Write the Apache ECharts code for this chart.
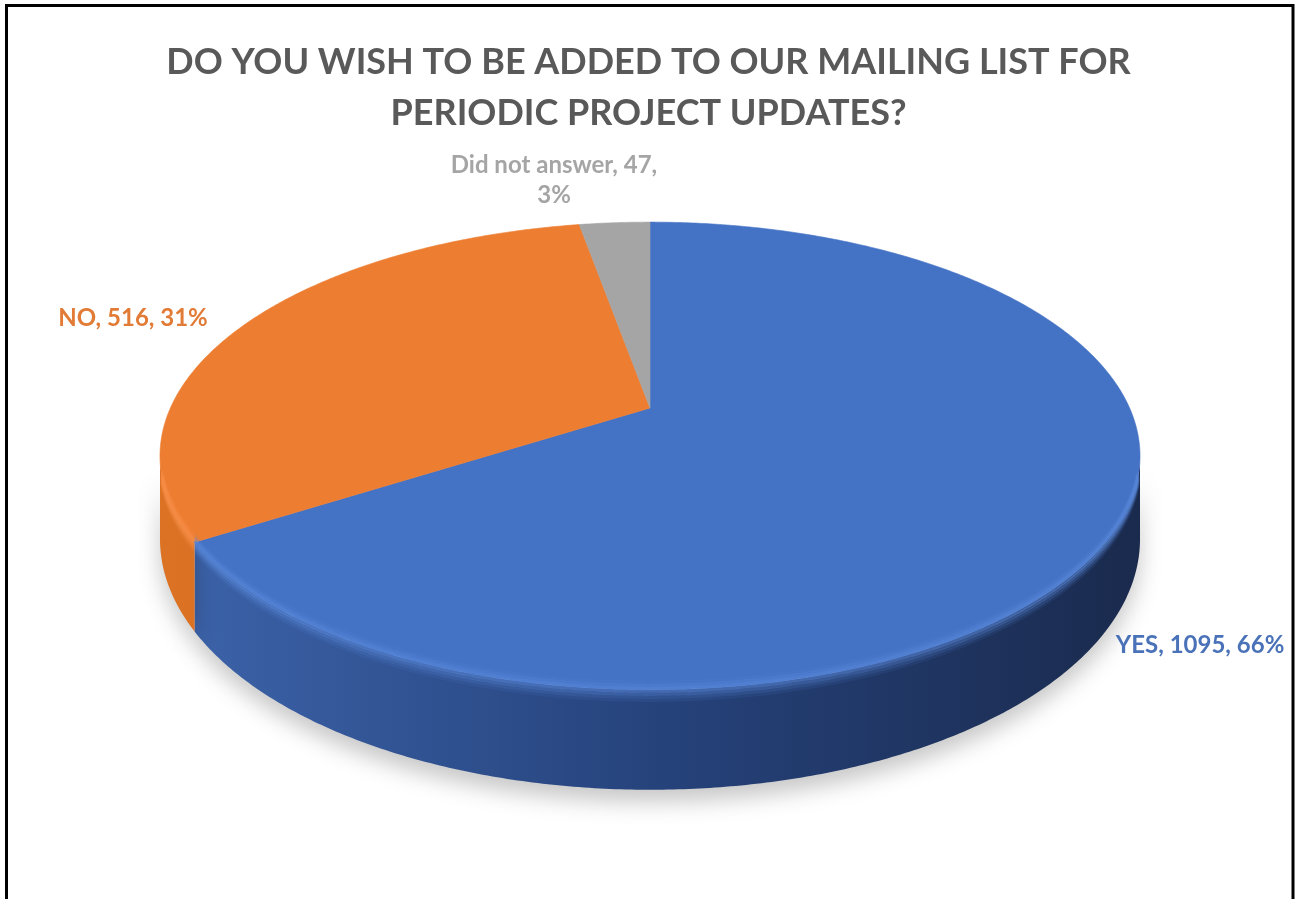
<!DOCTYPE html>
<html>
<head>
<meta charset="utf-8">
<script src="https://cdn.jsdelivr.net/npm/echarts@6/dist/echarts.min.js"></script>
<style>
  html, body { margin: 0; padding: 0; background: #ffffff; }
  #chart { width: 1297px; height: 899px; }
</style>
</head>
<body>
<div id="chart"></div>
<script>
// Survey answers
const categories = ['YES', 'NO', 'Did not answer'];
const responses = [1095, 516, 47];
const titleText = 'DO YOU WISH TO BE ADDED TO OUR MAILING LIST FOR\nPERIODIC PROJECT UPDATES?';

// Styling
const topColors = ['#4472C4', '#ED7D31', '#A5A5A5'];
const wallStops = [
  ['#3d64ab', '#26437c', '#1a2a4d'],
  ['#dc7224', '#c9641c', '#b35616'],
  ['#909090', '#7c7c7c', '#686868']
];
// rgb of the bevel highlight per slice
const bevelRgb = ['92,140,222', '250,145,75', '195,195,195'];
const labelColors = ['#4A72B8', '#E27B36', '#A5A5A5'];
// label anchor (centre) and whether the value/percent go on a second line
const labelLayout = [
  { x: 1200, y: 645, wrap: false },
  { x: 133, y: 318, wrap: false },
  { x: 554, y: 180, wrap: true }
];

// Tilted disc seen in perspective: centre, radii, perspective strength, wall depth
const PIE = { cx: 650, cy: 408, rx: 479.6, ry: 224, persp: 0.205, depth: 79.5 };

// angle in degrees, clockwise from 12 o'clock -> screen point + perspective divisor
function rimPoint(deg) {
  const t = deg * Math.PI / 180;
  const u = Math.sin(t);
  const v = -Math.cos(t);
  const w = 1 - PIE.persp * v;
  return [PIE.cx + PIE.rx * u / w, PIE.cy + PIE.ry * v / w, w];
}

function arcPoints(from, to, fn) {
  const out = [];
  const n = Math.max(2, Math.ceil((to - from) / 0.5));
  for (let k = 0; k <= n; k++) out.push(fn(rimPoint(from + (to - from) * k / n)));
  return out;
}

const total = responses.reduce((a, b) => a + b, 0);
const startAngles = [];
{
  let acc = 0;
  responses.forEach(v => { startAngles.push(acc / total * 360); acc += v; });
}
// the side wall is visible between the two silhouette tangents
const visLo = Math.acos(-PIE.persp) * 180 / Math.PI;
const visHi = 360 - visLo;

function renderSlice(params, api) {
  const i = params.dataIndex;
  const value = api.value(0);
  const a0 = startAngles[i];
  const a1 = a0 + value / total * 360;
  const children = [];

  // top face
  const pts = [[PIE.cx, PIE.cy]].concat(arcPoints(a0, a1, p => [p[0], p[1]]));
  children.push({
    type: 'polygon', z2: 10,
    shape: { points: pts },
    style: { fill: topColors[i], stroke: topColors[i], lineWidth: 0.6 }
  });

  // outer wall (front part only)
  const lo = Math.max(a0, visLo), hi = Math.min(a1, visHi);
  if (hi > lo) {
    const top = arcPoints(lo, hi, p => [p[0], p[1]]);
    const bot = arcPoints(lo, hi, p => [p[0], p[1] + PIE.depth / p[2]]);
    const s = wallStops[i];
    children.push({
      type: 'polygon', z2: 1,
      shape: { points: top.concat(bot.slice().reverse()) },
      style: {
        fill: new echarts.graphic.LinearGradient(PIE.cx - PIE.rx * 1.03, 0, PIE.cx + PIE.rx * 1.03, 0, [
          { offset: 0, color: s[0] },
          { offset: 0.5, color: s[1] },
          { offset: 1, color: s[2] }
        ], true),
        shadowBlur: 22,
        shadowOffsetY: 12,
        shadowColor: 'rgba(0,0,0,0.22)'
      }
    });

    // rounded edge: highlight fading down the wall and into the top face
    const gLo = Math.max(lo, visLo + 5), gHi = Math.min(hi, visHi - 5);
    if (gHi > gLo) {
      const bands = [
        { dy: 1.5, a: 0.55, z: 3 },
        { dy: 4.5, a: 0.38, z: 3 },
        { dy: 7.5, a: 0.22, z: 3 },
        { dy: 10.5, a: 0.1, z: 3 },
        { dy: -1.5, a: 0.5, z: 11 },
        { dy: -4.5, a: 0.28, z: 11 },
        { dy: -7.5, a: 0.12, z: 11 }
      ];
      bands.forEach(b => {
        children.push({
          type: 'polyline', z2: b.z,
          shape: { points: arcPoints(gLo, gHi, p => [p[0], p[1] + b.dy / p[2] * 0.8]) },
          style: { stroke: 'rgba(' + bevelRgb[i] + ',' + b.a + ')', lineWidth: 3.2, fill: null }
        });
      });
    }
  }

  // data label
  const name = categories[i];
  const pct = Math.round(value / total * 100);
  const text = labelLayout[i].wrap
    ? name + ', ' + value + ',\n' + pct + '%'
    : name + ', ' + value + ', ' + pct + '%';
  children.push({
    type: 'text', z2: 20,
    x: labelLayout[i].x, y: labelLayout[i].y,
    style: {
      text: text,
      fill: labelColors[i],
      font: 'bold 24px Lato, "Open Sans", sans-serif',
      align: 'center',
      verticalAlign: 'middle',
      lineHeight: 30
    }
  });

  return { type: 'group', children: children };
}

const chart = echarts.init(document.getElementById('chart'), null, { renderer: 'canvas' });
chart.setOption({
  animation: false,
  backgroundColor: '#ffffff',
  title: {
    text: titleText,
    left: 'center',
    top: 32,
    textStyle: {
      fontFamily: 'Lato, "Open Sans", sans-serif',
      fontSize: 36,
      fontWeight: 'bold',
      color: '#595959',
      lineHeight: 51
    }
  },
  graphic: [{
    type: 'rect',
    shape: { x: 6.5, y: 5.5, width: 1286.5, height: 1000 },
    style: { fill: null, stroke: '#000000', lineWidth: 3 },
    silent: true
  }],
  series: [{
    type: 'custom',
    coordinateSystem: 'none',
    renderItem: renderSlice,
    data: responses.map((v, i) => ({ name: categories[i], value: v }))
  }]
});
</script>
</body>
</html>
